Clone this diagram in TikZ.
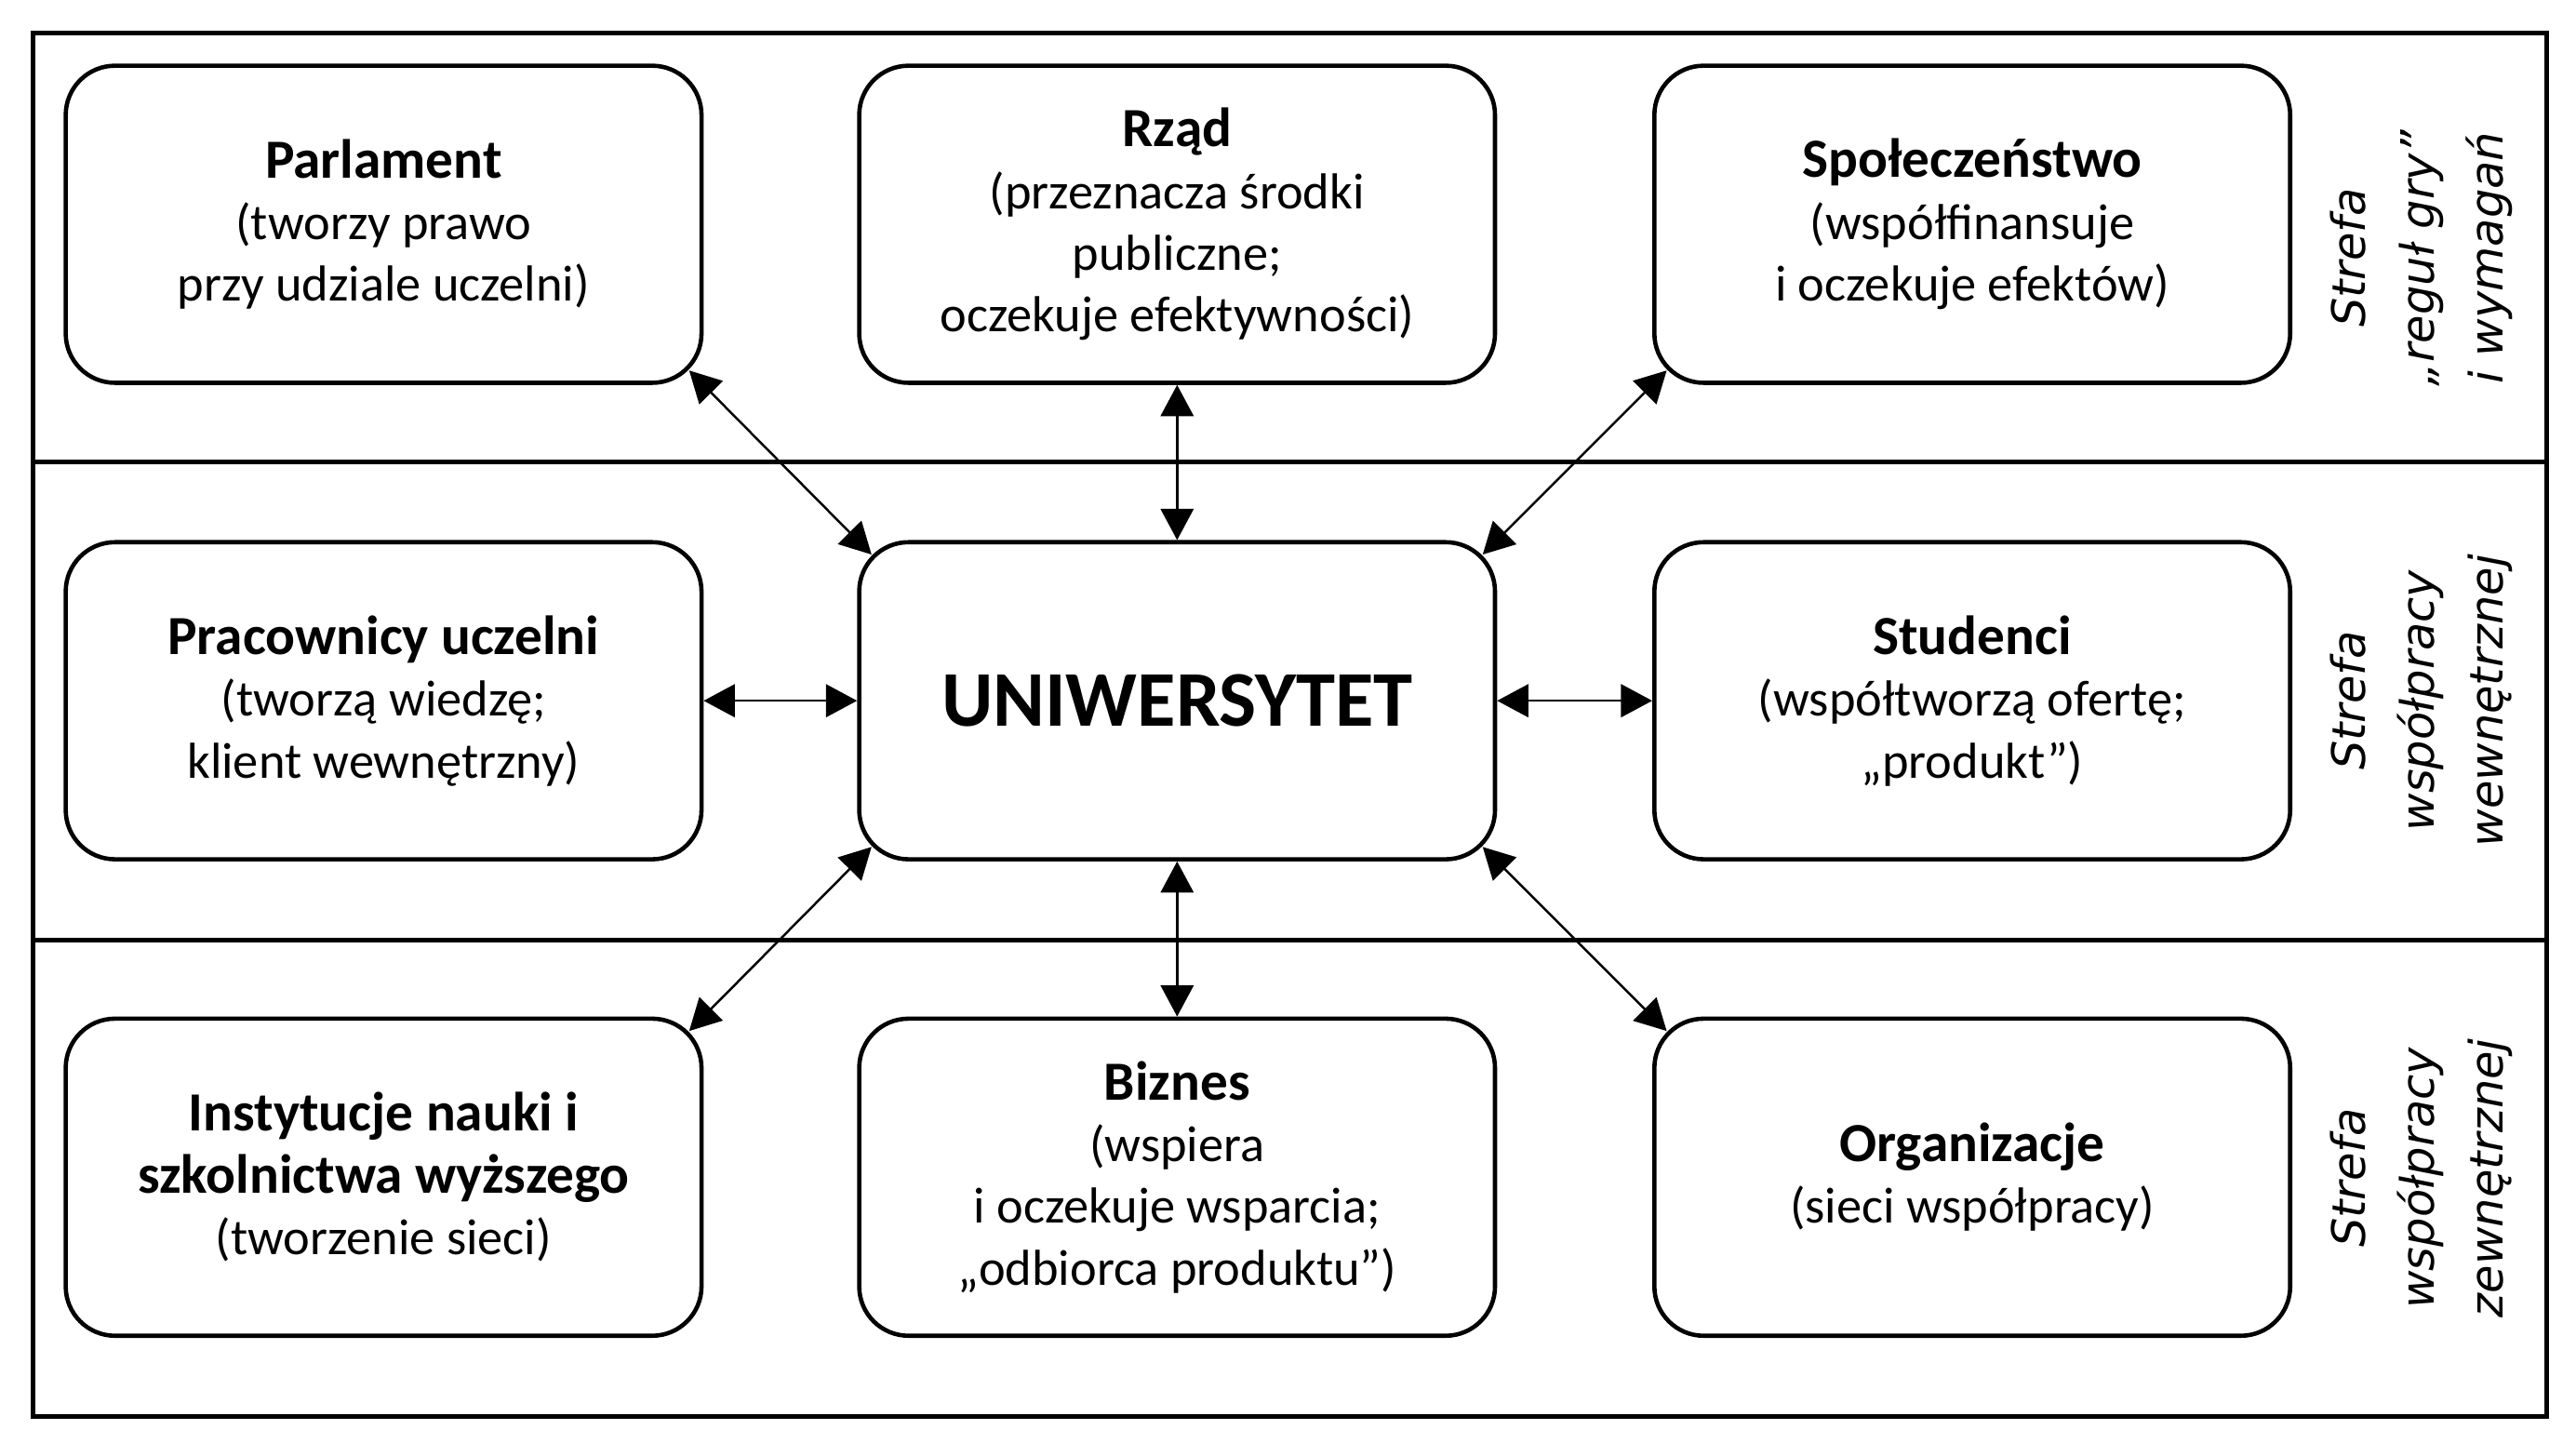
\documentclass[tikz,border=0pt]{standalone}
\usepackage{fontspec}
\setmainfont{Carlito}
\newfontfamily\zonefont{DejaVu Sans}
\usetikzlibrary{arrows.meta}

\newcommand{\ttl}[1]{{\fontsize{16.8}{20}\selectfont\bfseries #1}}

\begin{document}
\begin{tikzpicture}[x=0.5pt,y=-0.5pt,
		box/.style={draw, line width=1.3pt, rounded corners=15pt, minimum width=193.5pt, minimum height=96.5pt, inner sep=0pt, align=center, font=\fontsize{15.4}{18.8}\selectfont},
		zone/.style={rotate=90, align=center, font=\zonefont\itshape\fontsize{14}{21}\selectfont},
		arr/.style={{Triangle[length=9.5pt,width=10pt]}-{Triangle[length=9.5pt,width=10pt]}, line width=0.7pt}]
				\useasboundingbox (0,0) rectangle (1568,878);
				
				\draw[line width=1.4pt] (20,20) rectangle (1550,862);
				\draw[line width=1.4pt] (20,281) -- (1550,281);
				\draw[line width=1.4pt] (20,572) -- (1550,572);
				
				\node[box] (par) at (233.5,136.5) {\ttl{Parlament}\\(tworzy prawo\\przy udziale uczelni)};
				\node[box] (rzad) at (716.5,136.5) {\ttl{Rząd}\\(przeznacza środki\\publiczne;\\oczekuje efektywności)};
				\node[box] (spol) at (1200.5,136.5) {\ttl{Społeczeństwo}\\(współfinansuje\\i oczekuje efektów)};
				
				\node[box] (prac) at (233.5,426.5) {\ttl{Pracownicy uczelni}\\(tworzą wiedzę;\\klient wewnętrzny)};
				\node[box] (uni) at (716.5,426.5) {\fontsize{24}{28}\selectfont\bfseries UNIWERSYTET};
				\node[box] (stud) at (1200.5,426.5) {\ttl{Studenci}\\(współtworzą ofertę;\\„produkt”)};
				
				\node[box] (inst) at (233.5,716.5) {\ttl{Instytucje nauki i}\\\ttl{szkolnictwa wyższego}\\(tworzenie sieci)};
				\node[box] (biz) at (716.5,716.5) {\ttl{Biznes}\\(wspiera\\i oczekuje wsparcia;\\„odbiorca produktu”)};
				\node[box] (org) at (1200.5,716.5) {\ttl{Organizacje}\\(sieci współpracy)};
				
				\node[zone] (reguly) at (1474,157) {Strefa\\„reguł gry”\\i wymagań};
				\node[zone] (wewn) at (1474,426.5) {Strefa\\współpracy\\wewnętrznej};
				\node[zone] (zewn) at (1474,717) {Strefa\\współpracy\\zewnętrznej};
				
				\draw[arr] ([shift={(-8.8,-8.8)}]par.south east) -- ([shift={(8.8,8.8)}]uni.north west);
				\draw[arr] (rzad) -- (uni);
				\draw[arr] ([shift={(8.8,-8.8)}]spol.south west) -- ([shift={(-8.8,8.8)}]uni.north east);
				\draw[arr] (prac) -- (uni);
				\draw[arr] (uni) -- (stud);
				\draw[arr] ([shift={(8.8,-8.8)}]uni.south west) -- ([shift={(-8.8,8.8)}]inst.north east);
				\draw[arr] (uni) -- (biz);
				\draw[arr] ([shift={(-8.8,-8.8)}]uni.south east) -- ([shift={(8.8,8.8)}]org.north west);
			\end{tikzpicture}
\end{document}
